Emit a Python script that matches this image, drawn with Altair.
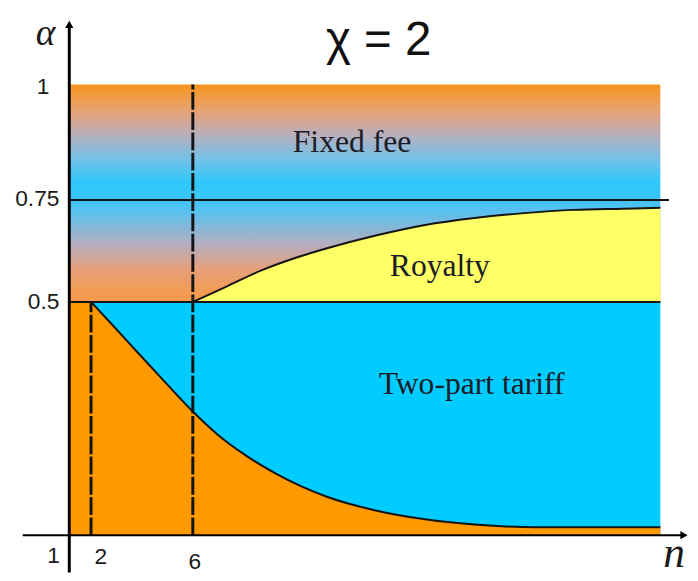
import altair as alt
import pandas as pd

# ---- data ----
# royalty boundary (upper curve), starts at n = 6
upper_n = [6, 7.41, 8.81, 10.22, 11.42, 13.43, 15.44, 17.45, 19.46, 21.47, 23.47, 25]
upper_a = [0.5, 0.539, 0.578, 0.609, 0.631, 0.663, 0.689, 0.706, 0.718, 0.726, 0.729, 0.731]
# two-part tariff boundary (lower curve), starts at n = 2
lower_n = [2, 2.97, 3.86, 4.91, 6, 7.0, 8.21, 9.41, 11.42, 13.43, 15.44, 17.45, 19.94, 25]
lower_a = [0.5, 0.443, 0.390, 0.328, 0.265, 0.216, 0.169, 0.131, 0.083, 0.053, 0.034, 0.023, 0.017, 0.017]

x_ticks = [1, 2, 6]
x_tick_labels = ["1", "2", "6"]
y_ticks = [1, 0.75, 0.5]
y_tick_labels = ["1", "0.75", "0.5"]

n_min, n_max = 1, 25
title_text = "χ = 2"
region_labels = ["Fixed fee", "Royalty", "Two-part tariff"]
region_n = [12.47, 16.04, 17.33]
region_a = [0.855, 0.563, 0.303]

# ---- scales ----
xs = alt.Scale(domain=[1, 2, 6, 25], range=[62, 84, 187, 660], nice=False, zero=False)
ys = alt.Scale(domain=[0, 0.5, 0.75, 1], range=[530, 294, 191, 74], nice=False, zero=False)


def X(f):
    return alt.X(f, type="quantitative", scale=xs, axis=None)


def Y(f):
    return alt.Y(f, type="quantitative", scale=ys, axis=None)


INK = "#141414"
ORANGE = "#FF9900"
BLUE = "#00CCFF"
YELLOW = "#FFFF66"

grad = alt.Gradient(
    gradient="linear",
    x1=0, x2=0, y1=0, y2=1,
    stops=[
        alt.GradientStop(color="#F7961E", offset=0.0),
        alt.GradientStop(color="#E6A37A", offset=0.13),
        alt.GradientStop(color="#BDADB5", offset=0.22),
        alt.GradientStop(color="#7DBFE5", offset=0.33),
        alt.GradientStop(color="#2FC8FA", offset=0.45),
        alt.GradientStop(color="#3AC6F7", offset=0.52),
        alt.GradientStop(color="#5CC0EF", offset=0.59),
        alt.GradientStop(color="#B8ADBD", offset=0.74),
        alt.GradientStop(color="#E6A07A", offset=0.85),
        alt.GradientStop(color="#F29B55", offset=0.95),
        alt.GradientStop(color="#F49A4A", offset=1.0),
    ],
)

top_df = pd.DataFrame({"n1": [n_min], "n2": [n_max], "a1": [0.5], "a2": [1.0]})
bottom_df = pd.DataFrame({"n1": [n_min], "n2": [n_max], "a1": [0.0], "a2": [0.5]})
strip_df = pd.DataFrame({"n1": [n_min], "n2": [lower_n[0]], "a1": [0.0], "a2": [0.5]})
low_df = pd.DataFrame({"n": lower_n, "a": lower_a, "base": [0.0] * len(lower_n)})
up_df = pd.DataFrame({"n": upper_n, "a": upper_a, "base": [0.5] * len(upper_n)})

top = alt.Chart(top_df).mark_rect(color=grad).encode(x=X("n1"), x2="n2", y=Y("a2"), y2="a1")
bottom = alt.Chart(bottom_df).mark_rect(color=BLUE).encode(x=X("n1"), x2="n2", y=Y("a2"), y2="a1")
strip = alt.Chart(strip_df).mark_rect(color=ORANGE).encode(x=X("n1"), x2="n2", y=Y("a2"), y2="a1")
orange_area = alt.Chart(low_df).mark_area(color=ORANGE, interpolate="monotone").encode(
    x=X("n"), y=Y("a"), y2="base")
yellow_area = alt.Chart(up_df).mark_area(color=YELLOW, interpolate="monotone").encode(
    x=X("n"), y=Y("a"), y2="base")

low_line = alt.Chart(low_df).mark_line(color=INK, strokeWidth=2, interpolate="monotone").encode(
    x=X("n"), y=Y("a"))
up_line = alt.Chart(up_df).mark_line(color=INK, strokeWidth=2, interpolate="monotone").encode(
    x=X("n"), y=Y("a"))

h_df = pd.DataFrame({"a": [0.5, 0.75], "n1": [n_min, n_min], "n2": [n_max, 25.35]})
hrules = alt.Chart(h_df).mark_rule(color=INK, strokeWidth=2).encode(x=X("n1"), x2="n2", y=Y("a"))

v_df = pd.DataFrame({"n": [2, 6], "a1": [0.0, 0.0], "a2": [0.5, 1.0]})
vrules = alt.Chart(v_df).mark_rule(color=INK, strokeWidth=3, strokeDash=[18, 2.5]).encode(
    x=X("n"), y=Y("a1"), y2="a2")

# axes drawn as arrows
yaxis_df = pd.DataFrame({"n": [1], "a1": [-0.08], "a2": [1.13]})
xaxis_df = pd.DataFrame({"a": [0.0], "n1": [-1.14], "n2": [25.9]})
yaxis = alt.Chart(yaxis_df).mark_rule(color="black", strokeWidth=3).encode(x=X("n"), y=Y("a1"), y2="a2")
xaxis = alt.Chart(xaxis_df).mark_rule(color="black", strokeWidth=2).encode(x=X("n1"), x2="n2", y=Y("a"))
up_arrow = alt.Chart(pd.DataFrame({"n": [1], "a": [1.13]})).mark_point(
    shape="triangle-up", filled=True, size=70, color="black", opacity=1).encode(x=X("n"), y=Y("a"))
right_arrow = alt.Chart(pd.DataFrame({"n": [25.96], "a": [0.0]})).mark_point(
    shape="triangle-right", filled=True, size=70, color="black", opacity=1).encode(x=X("n"), y=Y("a"))

layers = [top, bottom, strip, orange_area, yellow_area, hrules, low_line, up_line, vrules,
          yaxis, xaxis, up_arrow, right_arrow]

# tick labels
x_off = [(-16, 21), (10, 22), (2, 27)]
for v, lab, (dx, dy) in zip(x_ticks, x_tick_labels, x_off):
    layers.append(alt.Chart(pd.DataFrame({"n": [v], "a": [0.0], "t": [lab]})).mark_text(
        font="Liberation Sans", fontSize=23, color="#1a1a1a", align="center", baseline="middle",
        dx=dx, dy=dy).encode(x=X("n"), y=Y("a"), text="t:N"))
y_off = [(-20, 3), (-10, -1), (-10, 0)]
for v, lab, (dx, dy) in zip(y_ticks, y_tick_labels, y_off):
    layers.append(alt.Chart(pd.DataFrame({"n": [1], "a": [v], "t": [lab]})).mark_text(
        font="Liberation Sans", fontSize=23, color="#1a1a1a", align="right", baseline="middle",
        dx=dx, dy=dy).encode(x=X("n"), y=Y("a"), text="t:N"))

# axis names
layers.append(alt.Chart(pd.DataFrame({"n": [1], "a": [1.0], "t": ["α"]})).mark_text(
    font="Liberation Serif", fontStyle="italic", fontSize=38, color="#1a1a1a",
    align="center", baseline="alphabetic", dx=-24, dy=-40).encode(x=X("n"), y=Y("a"), text="t:N"))
layers.append(alt.Chart(pd.DataFrame({"n": [25], "a": [0.0], "t": ["n"]})).mark_text(
    font="Liberation Serif", fontStyle="italic", fontSize=44, color="#1a1a1a",
    align="left", baseline="alphabetic", dx=3, dy=32).encode(x=X("n"), y=Y("a"), text="t:N"))

# title
layers.append(alt.Chart(pd.DataFrame({"n": [13.55], "a": [1.0], "t": [title_text]})).mark_text(
    font="Liberation Sans", fontSize=48, color="#111111", align="center", baseline="alphabetic",
    dy=-30).encode(x=X("n"), y=Y("a"), text="t:N"))

# region labels
reg_df = pd.DataFrame({"n": region_n, "a": region_a, "t": region_labels})
layers.append(alt.Chart(reg_df).mark_text(
    font="Liberation Serif", fontSize=32, color="#1c1c28", align="center", baseline="alphabetic"
).encode(x=X("n"), y=Y("a"), text="t:N"))

chart = alt.layer(*layers).properties(
    width=690, height=573, padding=0, autosize="none"
).configure_view(stroke=None)

chart.save("out.html", embed_options={"renderer": "svg", "actions": False})
